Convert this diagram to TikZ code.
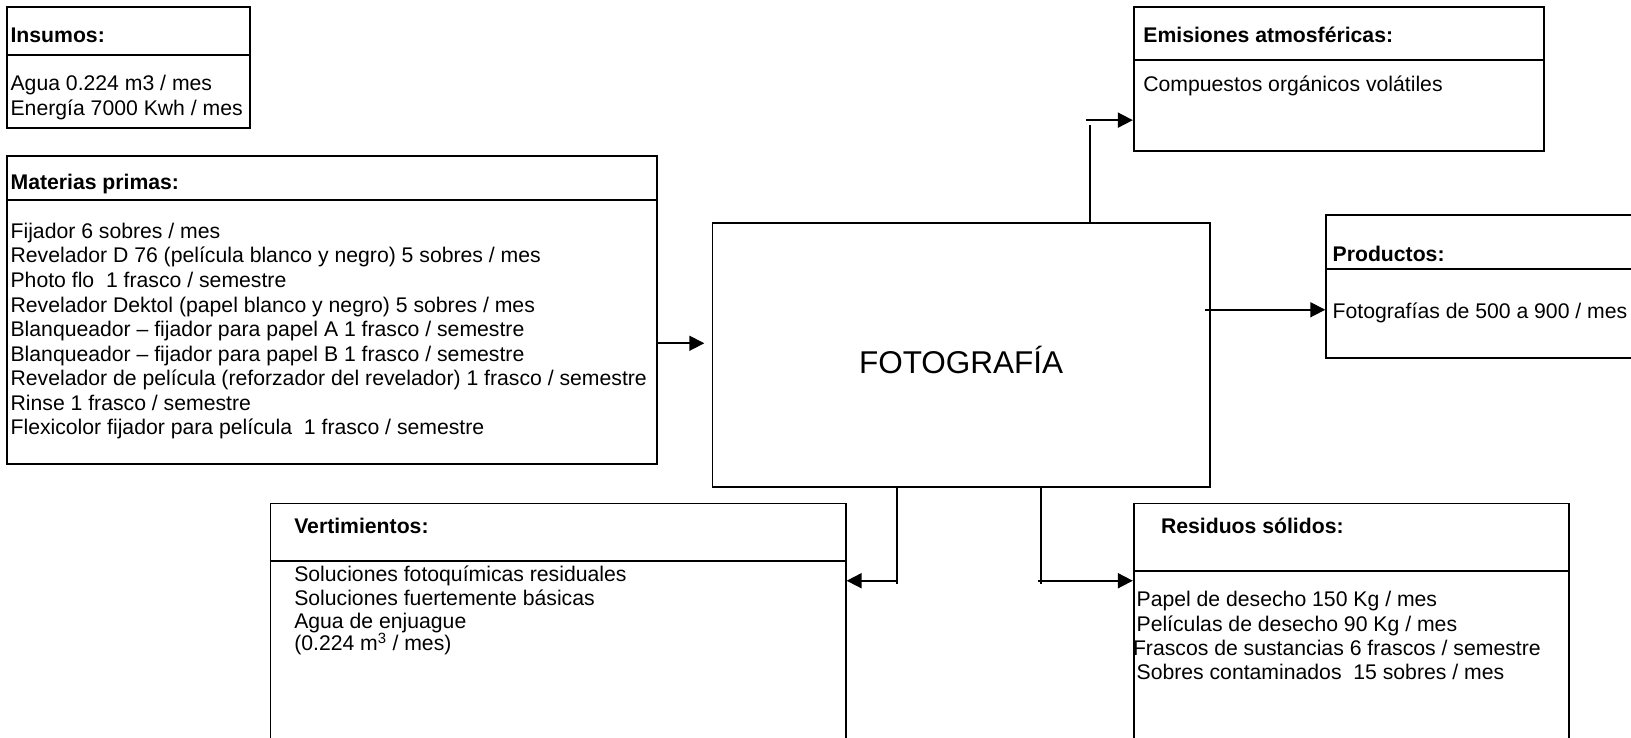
\documentclass[tikz,border=0pt]{standalone}
\usepackage{fontspec}
\setmainfont{Liberation Sans}
\usetikzlibrary{arrows.meta,calc,fit}
\begin{document}
\begin{tikzpicture}[x=1.0402pt,y=-1.0402pt,
  box/.style={draw, line width=1.9pt, inner sep=0pt},
  rule/.style={line width=1.9pt},
  wire/.style={line width=1.8pt},
  arr/.style={line width=1.8pt, -{Triangle[length=15pt,width=15pt]}},
  head/.style={anchor=base west, inner sep=0pt, font=\fontsize{21.2}{24.6}\selectfont\bfseries},
  body/.style={anchor=base west, inner sep=0pt, font=\fontsize{21.2}{#1}\selectfont},
  body/.default=24.6,
  big/.style={anchor=base, inner sep=0pt, font=\fontsize{31.5}{36}\selectfont}
]
\useasboundingbox (0,0) rectangle (1568,709);
\clip (0,0) rectangle (1568,709);

% Insumos
\node[box, fit={(7,7) (240,123)}] (ins) {};
\draw[rule] ($(ins.north west)+(0,46.6)$) -- ($(ins.north east)+(0,46.6)$);
\node[head] (insT) at (10,40.5) {Insumos:};
\node[body] (insB) at (10,87) {\begin{tabular}[t]{@{}l@{}}
Agua 0.224 m3 / mes\\
Energía 7000 Kwh / mes
\end{tabular}};

% Materias primas
\node[box, fit={(7,150) (632,446)}] (mat) {};
\draw[rule] ($(mat.north west)+(0,42.8)$) -- ($(mat.north east)+(0,42.8)$);
\node[head] (matT) at (10,182.5) {Materias primas:};
\node[body] (matB) at (10,229) {\begin{tabular}[t]{@{}l@{}}
Fijador 6 sobres / mes\\
Revelador D 76 (película blanco y negro) 5 sobres / mes\\
Photo flo\ \ 1 frasco / semestre\\
Revelador Dektol (papel blanco y negro) 5 sobres / mes\\
Blanqueador – fijador para papel A 1 frasco / semestre\\
Blanqueador – fijador para papel B 1 frasco / semestre\\
Revelador de película (reforzador del revelador) 1 frasco / semestre\\
Rinse 1 frasco / semestre\\
Flexicolor fijador para película\ \ 1 frasco / semestre
\end{tabular}};

% Central process
\node[box, fit={(685,214) (1163,468)}] (foto) {};
\node[big] (fotoT) at (924,359.5) {FOTOGRAFÍA};

% Emisiones atmosféricas
\node[box, fit={(1090,7) (1484,145)}] (emi) {};
\draw[rule] ($(emi.north west)+(0,51.3)$) -- ($(emi.north east)+(0,51.3)$);
\node[head] (emiT) at (1099,41) {Emisiones atmosféricas:};
\node[body] (emiB) at (1099,88) {Compuestos orgánicos volátiles};

% Productos
\node[box, fit={(1275,207) (1640,344)}] (prod) {};
\draw[rule] ($(prod.north west)+(0,52.5)$) -- ($(prod.north east)+(0,52.5)$);
\node[head] (prodT) at (1281,251.7) {Productos:};
\node[body] (prodB) at (1281,306) {Fotografías de 500 a 900 / mes};

% Vertimientos
\node[box, fit={(260,484) (813,790)}] (vert) {};
\draw[rule] ($(vert.north west)+(0,56.5)$) -- ($(vert.north east)+(0,56.5)$);
\node[head] (vertT) at (282.7,513) {Vertimientos:};
\node[body=23.4] (vertB) at (282.7,559.5) {\vtop{%
\hbox{Soluciones fotoquímicas residuales}
\hbox{Soluciones fuertemente básicas}
\hbox{Agua de enjuague}
\vskip-1.5pt
\hbox{(0.224 m\textsuperscript{3} / mes)}}};

% Residuos sólidos
\node[box, fit={(1090,484) (1508,790)}] (res) {};
\draw[rule] ($(res.north west)+(0,65.5)$) -- ($(res.north east)+(0,65.5)$);
\node[head] (resT) at (1116,512.5) {Residuos sólidos:};
\node[body=24.1] (resB) at (1092.5,583.5) {\begin{tabular}[t]{@{}l@{}}
Papel de desecho 150 Kg / mes\\
Películas de desecho 90 Kg / mes\\
\hspace*{-3.6pt}Frascos de sustancias 6 frascos / semestre\\
Sobres contaminados\ \ 15 sobres / mes
\end{tabular}};

% Connectors
\coordinate (matOut) at (633,330);
\draw[arr] (matOut) -- ($(foto.west |- matOut)+(-7,0)$);

\coordinate (emiRise) at (1047.6,120.5);
\coordinate (emiFrom) at (1044,115.5);
\draw[wire] (foto.north -| emiRise) -- (emiRise);
\draw[arr] (emiFrom) -- (emi.west |- emiFrom);

\coordinate (prodFrom) at (1158.7,297.8);
\draw[arr] (prodFrom) -- (prod.west |- prodFrom);

\coordinate (vertDrop) at (862,561.5);
\coordinate (vertFrom) at (862,558.3);
\draw[wire] (foto.south -| vertDrop) -- (vertDrop);
\draw[arr] (vertFrom) -- (vert.east |- vertFrom);

\coordinate (resDrop) at (1001,561.5);
\coordinate (resFrom) at (998,558.3);
\draw[wire] (foto.south -| resDrop) -- (resDrop);
\draw[arr] (resFrom) -- (res.west |- resFrom);
\end{tikzpicture}
\end{document}
